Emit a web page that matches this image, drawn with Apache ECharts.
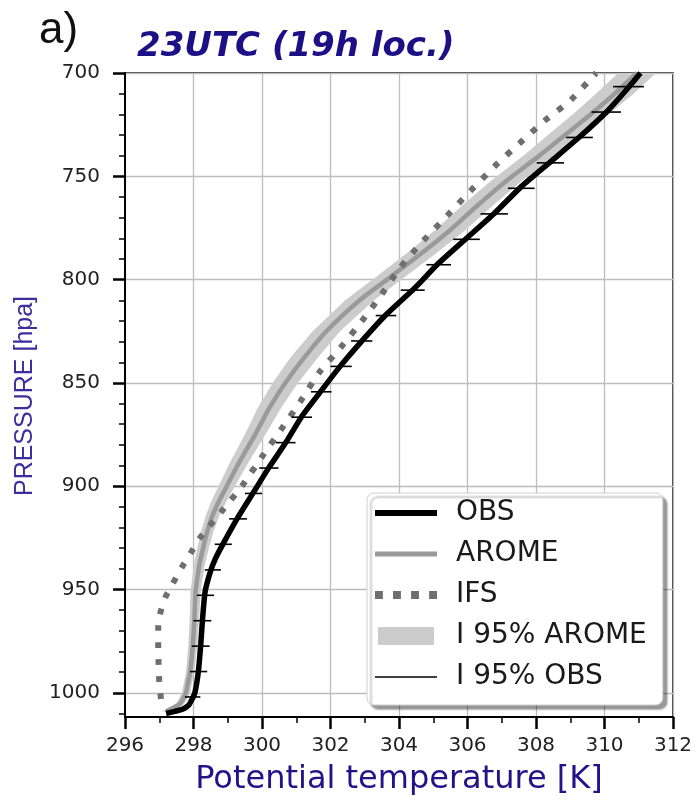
<!DOCTYPE html>
<html>
<head>
<meta charset="utf-8">
<script src="https://cdn.jsdelivr.net/npm/echarts@6/dist/echarts.min.js"></script>
<style>
  html, body { margin: 0; padding: 0; background: #fff; }
  #chart { width: 696px; height: 801px; }
</style>
</head>
<body>
<div id="chart"></div>
<script>
// Pressure axis ticks (hPa) and temperature range (K)
const yMajorTicks = [700, 750, 800, 850, 900, 950, 1000];
const yMinorTicks = [710, 720, 730, 740, 760, 770, 780, 790, 810, 820, 830, 840, 860, 870, 880, 890,
                     910, 920, 930, 940, 960, 970, 980, 990, 1010];

// OBS profile
const obsP = [1010, 1009, 1008, 1006, 1003, 1000, 990, 977, 963, 951, 941, 935, 928, 915, 903, 891,
              879, 866, 854, 842, 830, 817, 805, 800, 792, 780, 768, 755, 743, 731, 719, 707, 700];
const obsTheta = [297.2, 297.45, 297.68, 297.86, 297.96, 298.04, 298.14, 298.21, 298.27, 298.34, 298.5,
                  298.64, 298.86, 299.3, 299.75, 300.2, 300.69, 301.17, 301.72, 302.28, 302.9, 303.62,
                  304.4, 304.7, 305.16, 305.97, 306.78, 307.57, 308.42, 309.27, 310.05, 310.7, 311.05];

// OBS 95% interval (horizontal bars)
const ciP = [1002, 989.7, 977.4, 965.1, 952.8, 940.5, 928.1, 915.8, 903.5, 891.2, 878.9, 866.6, 854.3,
             842, 829.7, 817.4, 805.1, 792.8, 780.5, 768.2, 755.8, 743.5, 731.2, 718.9, 706.6];
const ciLow = [297.75, 297.9, 297.95, 298.0, 298.1, 298.33, 298.62, 299.04, 299.5, 299.92, 300.4, 300.86,
               301.43, 302.0, 302.6, 303.32, 304.05, 304.8, 305.58, 306.38, 307.18, 308.02, 308.88,
               309.62, 310.25];
const ciHigh = [298.2, 298.4, 298.47, 298.52, 298.6, 298.8, 299.12, 299.56, 300.0, 300.48, 300.98, 301.46,
                302.03, 302.62, 303.22, 303.92, 304.75, 305.52, 306.36, 307.18, 307.96, 308.82, 309.66,
                310.48, 311.15];

// AROME profile and its 95% band
const aromeP = [1009, 1007, 1005, 1002, 1000, 995, 990, 977, 963, 951, 946, 938, 930, 922, 914, 907, 900,
                888, 875, 862, 850, 838, 825, 810, 800, 788, 776, 764, 752, 740, 730, 720, 710, 700];
const aromeTheta = [297.2, 297.45, 297.62, 297.72, 297.78, 297.84, 297.9, 297.98, 298.03, 298.06, 298.1,
                    298.17, 298.28, 298.4, 298.56, 298.75, 298.97, 299.35, 299.8, 300.22, 300.68, 301.22,
                    301.88, 302.85, 303.65, 304.6, 305.5, 306.3, 307.15, 308.1, 308.85, 309.6, 310.3, 310.95];
const aromeLow = [297.08, 297.3, 297.5, 297.6, 297.66, 297.72, 297.78, 297.85, 297.89, 297.91, 297.95,
                  298.01, 298.11, 298.22, 298.36, 298.53, 298.73, 299.08, 299.5, 299.88, 300.31, 300.82,
                  301.48, 302.43, 303.23, 304.17, 305.06, 305.85, 306.7, 307.63, 308.35, 309.08, 309.75, 310.4];
const aromeHigh = [297.35, 297.6, 297.74, 297.84, 297.9, 297.96, 298.02, 298.11, 298.17, 298.21, 298.25,
                   298.33, 298.45, 298.58, 298.76, 298.97, 299.21, 299.62, 300.1, 300.56, 301.05, 301.62,
                   302.28, 303.27, 304.07, 305.03, 305.94, 306.75, 307.6, 308.57, 309.35, 310.12, 310.85, 311.5];

// IFS profile
const ifsP = [1003, 994, 986, 978, 969, 962, 954, 947, 939, 932, 925, 912, 900, 886, 872, 859, 845, 833,
              820, 807, 794, 781, 769, 757, 745, 734, 723, 713, 701, 700];
const ifsTheta = [297.05, 297.0, 296.98, 296.97, 296.97, 297.02, 297.17, 297.4, 297.67, 297.93, 298.19,
                  298.83, 299.41, 299.99, 300.58, 301.12, 301.67, 302.29, 302.92, 303.5, 304.04, 304.72,
                  305.41, 306.09, 306.8, 307.52, 308.26, 309.02, 309.7, 309.76];

const chart = echarts.init(document.getElementById('chart'));

const tickFont = { color: '#222', fontSize: 20, fontFamily: 'DejaVu Sans' };

const option = {
  animation: false,
  backgroundColor: '#fff',
  title: {
    text: '23UTC (19h loc.)',
    left: 137,
    top: 30,
    padding: 0,
    textStyle: { color: '#1d0f85', fontSize: 34, fontWeight: 'bold', fontStyle: 'italic', fontFamily: 'DejaVu Sans' }
  },
  graphic: [
    { type: 'text', x: 39, y: 31, style: { text: 'a)', font: '44px "Liberation Sans"', fill: '#111', textVerticalAlign: 'middle' } },
    { type: 'text', x: 25, y: 396, rotation: Math.PI / 2,
      style: { text: 'PRESSURE [hpa]', font: '25px "Liberation Sans"', fill: '#3b2e9e', textAlign: 'center', textVerticalAlign: 'middle' } }
  ],
  grid: {
    left: 125, right: 23, top: 73, bottom: 83,
    show: true, borderColor: '#000', borderWidth: 1.5
  },
  legend: {
    orient: 'vertical',
    left: 367, top: 493,
    itemWidth: 62, itemHeight: 18, itemGap: 13,
    padding: [6, 16, 14, 8],
    backgroundColor: '#fff',
    borderColor: '#cfcfcf', borderWidth: 1, borderRadius: 7,
    shadowColor: 'rgba(0,0,0,0.4)', shadowBlur: 2, shadowOffsetX: 4, shadowOffsetY: 4,
    textStyle: { color: '#1a1a1a', fontSize: 28, lineHeight: 26, fontFamily: 'DejaVu Sans', padding: [0, 0, 0, 14] },
    data: [
      { name: 'OBS', icon: 'path://M0,0H62V6H0Z', itemStyle: { color: '#000' } },
      { name: 'AROME', icon: 'path://M0,0H62V5H0Z', itemStyle: { color: '#9a9a9a' } },
      { name: 'IFS', icon: 'path://M0,0h7v7h-7z M16,0h7v7h-7z M32,0h7v7h-7z M48,0h7v7h-7z', itemStyle: { color: '#6e6e6e' } },
      { name: 'I 95% AROME', icon: 'path://M0,0H56V18H0Z', itemStyle: { color: '#cccccc' } },
      { name: 'I 95% OBS', icon: 'path://M0,0H62V1.6H0Z', itemStyle: { color: '#000' } }
    ]
  },
  xAxis: {
    type: 'value', min: 296, max: 312, interval: 2,
    name: 'Potential temperature [K]', nameLocation: 'middle', nameGap: 47,
    nameTextStyle: { color: '#22138a', fontSize: 32, fontFamily: 'DejaVu Sans' },
    axisLine: { show: true, lineStyle: { color: '#000', width: 2 } },
    axisTick: { show: true, length: 12, lineStyle: { color: '#000', width: 2.5 } },
    minorTick: { show: true, splitNumber: 2, length: 6, lineStyle: { color: '#000', width: 1.5 } },
    axisLabel: Object.assign({ margin: 19 }, tickFont),
    splitLine: { show: true, lineStyle: { color: '#bdbdbd', width: 1.3 } }
  },
  yAxis: [
    {
      type: 'value', inverse: true, min: 700, max: 1011.7, interval: 50,
      axisLine: { show: true, lineStyle: { color: '#000', width: 2 } },
      axisTick: { show: true, length: 12, customValues: yMajorTicks, lineStyle: { color: '#000', width: 2.5 } },
      axisLabel: Object.assign({ margin: 25, customValues: yMajorTicks, formatter: v => String(v) }, tickFont),
      splitLine: { show: true, lineStyle: { color: '#bdbdbd', width: 1.3 } }
    },
    {
      type: 'value', inverse: true, min: 700, max: 1011.7, position: 'left',
      axisLine: { show: false },
      axisTick: { show: true, length: 6, customValues: yMinorTicks, lineStyle: { color: '#000', width: 1.5 } },
      axisLabel: { show: false },
      splitLine: { show: false }
    }
  ],
  series: [
    {
      name: 'I 95% AROME',
      type: 'custom',
      z: 1,
      data: aromeP.map((p, i) => [aromeLow[i], p, aromeHigh[i]]),
      encode: { x: [0, 2], y: 1 },
      itemStyle: { color: '#cccccc' },
      renderItem: function (params, api) {
        if (params.dataIndex !== 0) return null;
        const pts = [];
        for (let i = 0; i < aromeP.length; i++) pts.push(api.coord([aromeLow[i], aromeP[i]]));
        for (let i = aromeP.length - 1; i >= 0; i--) pts.push(api.coord([aromeHigh[i], aromeP[i]]));
        return { type: 'polygon', shape: { points: pts }, style: { fill: '#cccccc' } };
      }
    },
    {
      name: 'AROME',
      type: 'line',
      z: 2,
      symbol: 'none',
      smooth: 0.2,
      data: aromeP.map((p, i) => [aromeTheta[i], p]),
      lineStyle: { color: '#9a9a9a', width: 4.5 },
      itemStyle: { color: '#9a9a9a' }
    },
    {
      name: 'IFS',
      type: 'line',
      z: 3,
      symbol: 'none',
      smooth: 0.2,
      data: ifsP.map((p, i) => [ifsTheta[i], p]),
      lineStyle: { color: '#6e6e6e', width: 6, type: [6, 11], cap: 'butt' },
      itemStyle: { color: '#6e6e6e' }
    },
    {
      name: 'OBS',
      type: 'line',
      z: 4,
      symbol: 'none',
      smooth: 0.2,
      data: obsP.map((p, i) => [obsTheta[i], p]),
      lineStyle: { color: '#000', width: 5.5 },
      itemStyle: { color: '#000' }
    },
    {
      name: 'I 95% OBS',
      type: 'custom',
      z: 5,
      data: ciP.map((p, i) => [ciLow[i], p, ciHigh[i]]),
      encode: { x: [0, 2], y: 1 },
      itemStyle: { color: '#000' },
      renderItem: function (params, api) {
        const p = api.value(1);
        const a = api.coord([api.value(0), p]);
        const b = api.coord([api.value(2), p]);
        return { type: 'line', shape: { x1: a[0], y1: a[1], x2: b[0], y2: b[1] }, style: { stroke: '#000', lineWidth: 1.6 } };
      }
    }
  ]
};

chart.setOption(option);
</script>
</body>
</html>
